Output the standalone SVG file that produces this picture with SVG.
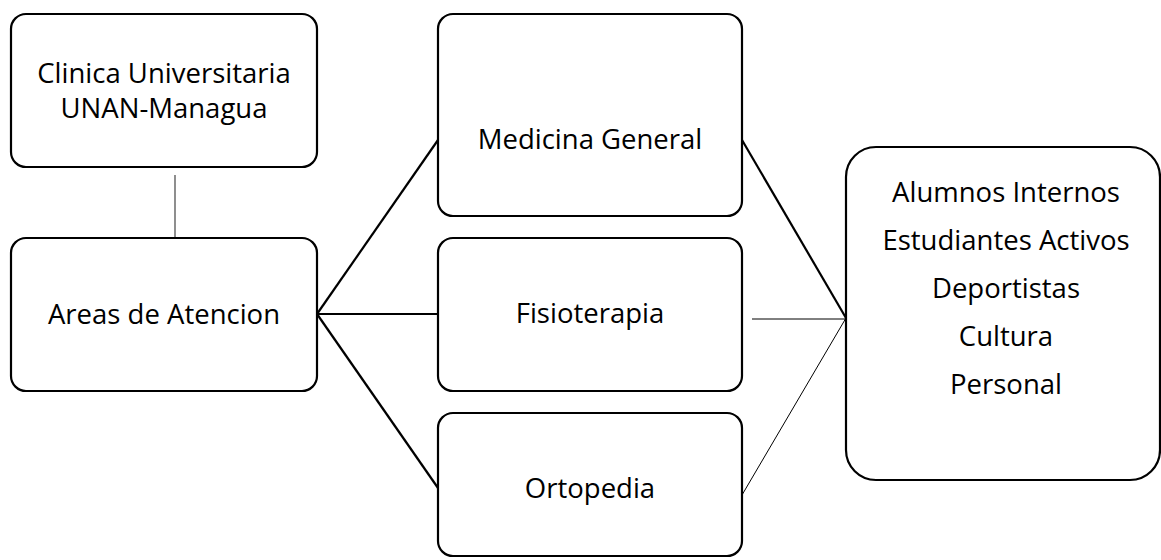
<svg xmlns="http://www.w3.org/2000/svg" width="1161" height="560" viewBox="0 0 1161 560">
<style>
.box{fill:#fff;stroke:#000;stroke-width:2.2}
.t{font-family:"Open Sans","Liberation Sans",sans-serif;font-size:27.5px;fill:#000;text-anchor:middle}
.thick{stroke:#000;stroke-width:2.2;fill:none}
.thin{stroke:#000;stroke-width:1;fill:none}
.gray{stroke:#444;stroke-width:1.2;fill:none}
</style>
<rect width="1161" height="560" fill="#fff"/>
<g id="connectors">
<line class="gray" x1="175" y1="175" x2="175" y2="243"/>
<line class="thick" x1="317" y1="314" x2="438" y2="140"/>
<line class="thick" x1="317" y1="314" x2="438" y2="314"/>
<line class="thick" x1="317" y1="314" x2="438" y2="488"/>
<line class="thick" x1="742" y1="140" x2="846" y2="318"/>
<line class="thin" x1="752" y1="319" x2="855" y2="319"/>
<line class="thin" x1="742" y1="495" x2="846" y2="318"/>
</g>
<g id="clinica">
<rect class="box" x="11" y="14" width="306" height="153" rx="15"/>
<text class="t" x="164" y="83">Clinica Universitaria</text>
<text class="t" x="164" y="118">UNAN-Managua</text>
</g>
<g id="areas">
<rect class="box" x="11" y="238" width="306" height="153" rx="15"/>
<text class="t" x="164" y="324">Areas de Atencion</text>
</g>
<g id="medicina">
<rect class="box" x="438" y="14" width="304" height="202" rx="15"/>
<text class="t" x="590" y="149">Medicina General</text>
</g>
<g id="fisioterapia">
<rect class="box" x="438" y="238" width="304" height="153" rx="15"/>
<text class="t" x="590" y="323">Fisioterapia</text>
</g>
<g id="ortopedia">
<rect class="box" x="438" y="413" width="304" height="143" rx="15"/>
<text class="t" x="590" y="498">Ortopedia</text>
</g>
<g id="grupos">
<rect class="box" x="846" y="147" width="314" height="333" rx="30"/>
<text class="t" x="1006" y="202">Alumnos Internos</text>
<text class="t" x="1006" y="250">Estudiantes Activos</text>
<text class="t" x="1006" y="298">Deportistas</text>
<text class="t" x="1006" y="346">Cultura</text>
<text class="t" x="1006" y="394">Personal</text>
</g>
</svg>
